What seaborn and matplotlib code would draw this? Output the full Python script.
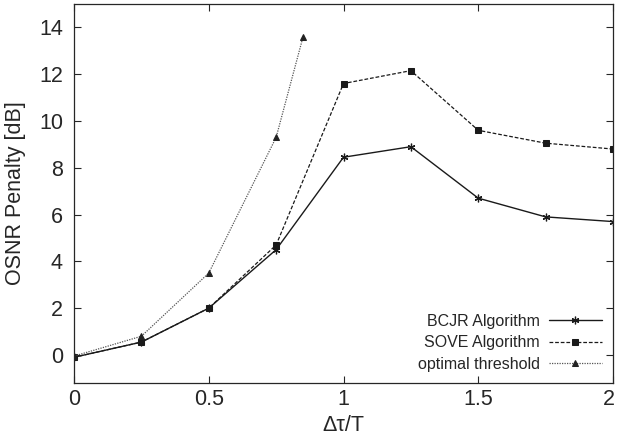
import matplotlib
matplotlib.use("Agg")
import matplotlib.pyplot as plt
import matplotlib.transforms as mtransforms
import seaborn as sns
import pandas as pd

x_main = [0, 0.25, 0.5, 0.75, 1.0, 1.25, 1.5, 1.75, 2.0]
bcjr = [-0.1, 0.55, 2.0, 4.5, 8.45, 8.9, 6.7, 5.9, 5.7]
sove = [-0.1, 0.55, 2.0, 4.7, 11.6, 12.15, 9.6, 9.05, 8.8]
x_opt = [0, 0.25, 0.5, 0.75, 0.85]
opt = [-0.05, 0.8, 3.5, 9.3, 13.6]

sns.set_style("ticks")
plt.rcParams['font.family'] = ['Liberation Sans', 'DejaVu Sans']
plt.rcParams['xtick.direction'] = 'in'
plt.rcParams['ytick.direction'] = 'in'

fig = plt.figure(figsize=(6.17, 4.4), dpi=100)
ax = fig.add_axes([0.12, 0.1295, 0.8735, 0.8615])

df_b = pd.DataFrame({"x": x_main, "y": bcjr})
df_s = pd.DataFrame({"x": x_main, "y": sove})
df_o = pd.DataFrame({"x": x_opt, "y": opt})

sns.lineplot(data=df_b, x="x", y="y", ax=ax, color="#1a1a1a", lw=1.0,
             marker=(6, 2, 0), markersize=5.5, markeredgewidth=0.9,
             markeredgecolor="#1a1a1a", label="BCJR Algorithm")
sns.lineplot(data=df_s, x="x", y="y", ax=ax, color="#1a1a1a", lw=0.9,
             linestyle=(0, (3, 1.5)), marker="s", markersize=4.8,
             markeredgecolor="#1a1a1a", label="SOVE Algorithm")
sns.lineplot(data=df_o, x="x", y="y", ax=ax, color="#555555", lw=0.9,
             linestyle=(0, (1, 1)), marker="^", markersize=4.2,
             markeredgecolor="#222222", markerfacecolor="#222222",
             label="optimal threshold")

ax.set_xlim(0, 2)
ax.set_ylim(-1.2, 15)
ax.set_xticks([0, 0.5, 1, 1.5, 2])
ax.set_xticklabels(["0", "0.5", "1", "1.5", "2"])
ax.set_yticks([0, 2, 4, 6, 8, 10, 12, 14])
ax.tick_params(axis="both", labelsize=15.5, top=True, right=True, length=5, width=0.8)
ax.tick_params(axis="x", pad=4)
ax.tick_params(axis="y", pad=8)
ax.set_xlabel("Δτ/T", fontsize=15.5, labelpad=4)
ax.set_ylabel("OSNR Penalty [dB]", fontsize=15.5, labelpad=9)
for s in ax.spines.values():
    s.set_linewidth(0.9)

# nudge the last x tick label so it stays inside the figure
last = ax.get_xticklabels()[-1]
last.set_transform(last.get_transform() + mtransforms.ScaledTranslation(-4 / 100, 0, fig.dpi_scale_trans))

leg = ax.legend(loc="lower right", frameon=False, markerfirst=False,
                fontsize=11.5, handlelength=3.3, labelspacing=0.4,
                borderaxespad=0.3, handletextpad=0.6)

fig.savefig("out.png", dpi=100)
